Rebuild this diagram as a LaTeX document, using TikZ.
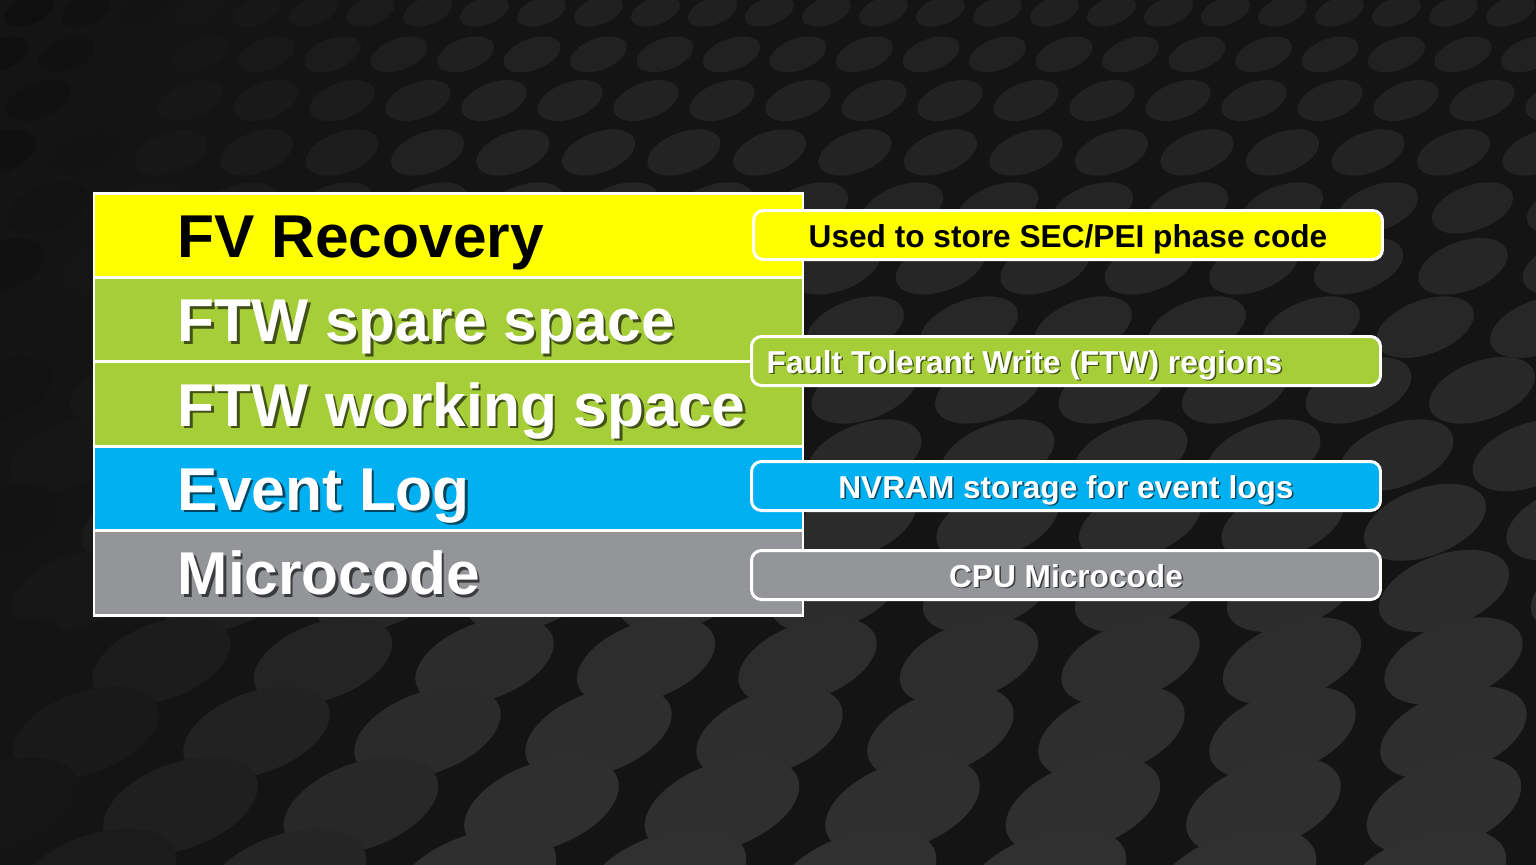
\documentclass[tikz,border=0pt]{standalone}
\usepackage{fontspec}
\setmainfont{Liberation Sans}
\usetikzlibrary{positioning}
\definecolor{fvyellow}{RGB}{255,255,0}
\definecolor{ftwgreen}{RGB}{166,206,57}
\definecolor{logblue}{RGB}{0,176,240}
\definecolor{ucgray}{RGB}{147,149,152}
\begin{document}
\begin{tikzpicture}[x=0.1mm,y=-0.1mm,
		row/.style={draw=white,line width=.85pt,minimum width=70.9mm,minimum height=8.44mm,inner sep=0pt,outer sep=0pt},
		note/.style={draw=white,line width=.85pt,rounded corners=1mm,minimum width=62.9mm,minimum height=4.9mm,inner sep=0pt},
		big/.style={font=\bfseries\fontsize{17.2}{20}\selectfont,inner sep=0pt,anchor=base west},
		small/.style={font=\bfseries\fontsize{9}{11}\selectfont,inner sep=0pt},
		wt/.style={text=white},
		sh/.style={text=black,opacity=.6}
	]
	\useasboundingbox (0,0) rectangle (1536,864);
	\begin{scope}
	\clip (-10,-10) rectangle (1546,880);
	\fill[black!92] (-10,-10) rectangle (1546,880);
	% rows of discs, growing towards the bottom
	\foreach \i in {0,...,15}{
		\pgfmathsetmacro\t{\i/15}
		\pgfmathsetmacro\py{-20+900*\t^1.25}
		\pgfmathsetmacro\s{0.25+0.75*\t}
		\pgfmathsetmacro\dx{190*\s}
		\pgfmathsetmacro\off{mod(\i,2)*\dx/2}
		\foreach \k in {-1,...,40}{
			\pgfmathsetmacro\px{\k*\dx+\off}
			\pgfmathsetmacro\g{100*(0.12+0.07*\t)*min(1,max(0.3,0.45+\px/900))}
			\ifdim\px pt<1650pt
				\fill[white!\g!black,rotate around={20:(\px,\py)}]
					(\px,\py) ellipse [x radius={85*\s},y radius={45*\s}];
			\fi
		}
	}
	\end{scope}
	\node[row,fill=fvyellow,anchor=north west] (fvrec) at (94,193) {};
	\node[row,fill=ftwgreen,below=0pt of fvrec] (ftwspare) {};
	\node[row,fill=ftwgreen,below=0pt of ftwspare] (ftwwork) {};
	\node[row,fill=logblue,below=0pt of ftwwork] (evlog) {};
	\node[row,fill=ucgray,below=0pt of evlog] (ucode) {};
	\node[big] (fvrec-t) at ([shift={(8.3mm,-2.2mm)}]fvrec.west) {FV Recovery};
	\foreach \n/\txt in {ftwspare/FTW spare space,ftwwork/FTW working space,evlog/Event Log,ucode/Microcode}{
		\node[big,sh] (\n-s) at ([shift={(8.55mm,-2.45mm)}]\n.west) {\txt};
		\node[big,wt] (\n-t) at ([shift={(8.3mm,-2.2mm)}]\n.west) {\txt};
	}
	\node[note,fill=fvyellow] (n1) at (1068,235) {};
	\node[note,fill=ftwgreen] (n2) at (1066,361) {};
	\node[note,fill=logblue] (n3) at (1066,486) {};
	\node[note,fill=ucgray] (n4) at (1066,575) {};
	\node[small,anchor=base] (n1-t) at ([yshift=-1.2mm]n1.center) {Used to store SEC/PEI phase code};
	\node[small,sh,anchor=base west] (n2-s) at ([shift={(1.75mm,-1.35mm)}]n2.west) {Fault Tolerant Write (FTW) regions};
	\node[small,wt,anchor=base west] (n2-t) at ([shift={(1.6mm,-1.2mm)}]n2.west) {Fault Tolerant Write (FTW) regions};
	\foreach \n/\txt in {n3/NVRAM storage for event logs,n4/CPU Microcode}{
		\node[small,sh,anchor=base] (\n-s) at ([shift={(0.15mm,-1.35mm)}]\n.center) {\txt};
		\node[small,wt,anchor=base] (\n-t) at ([yshift=-1.2mm]\n.center) {\txt};
	}
\end{tikzpicture}
\end{document}
